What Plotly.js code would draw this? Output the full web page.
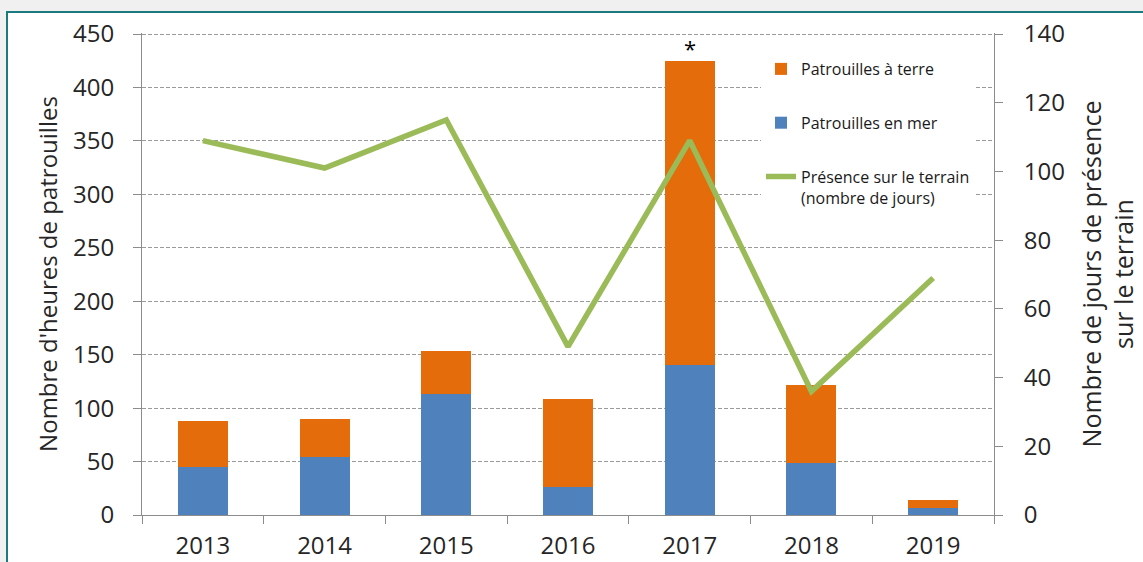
<!DOCTYPE html>
<html><head><meta charset="utf-8">
<script src="https://cdn.plot.ly/plotly-3.0.1.min.js"></script>
<style>html,body{margin:0;padding:0;background:#f0f0f0}</style>
</head><body><div id="chart" style="width:1143px;height:562px"></div>
<script>
// ---- data ----
const years = ['2013', '2014', '2015', '2016', '2017', '2018', '2019'];
const patrouillesMer = [45, 54, 113, 26, 140, 49, 7];      // heures
const patrouillesTerre = [43, 36, 40, 83, 285, 73, 7];     // heures
const presenceJours = [109, 101, 115, 49, 109, 36, 69];    // jours
const noteCategory = '2017';
const noteValue = 425;

// ---- layout helpers ----
const W = 1143, H = 562;
const M = {l: 142, r: 149, t: 33, b: 47};
const pw = W - M.l - M.r, ph = H - M.t - M.b;
const fx = px => (px - M.l) / pw;
const fy = py => (H - M.b - py) / ph;

const txt = '#262626', axc = '#8c8c8c', font = 'Open Sans, Noto Sans, sans-serif';

const traces = [
  {type: 'bar', name: 'Patrouilles en mer', x: years, y: patrouillesMer,
   marker: {color: '#4F81BD'}, legendgroup: 'mer', legendrank: 2},
  {type: 'bar', name: 'Patrouilles à terre', x: years, y: patrouillesTerre,
   marker: {color: '#E46C0A'}, legendgroup: 'terre', legendrank: 1},
  {type: 'scatter', mode: 'lines', name: 'Présence sur le terrain<br>(nombre de jours)',
   x: years, y: presenceJours, yaxis: 'y2',
   line: {color: '#9BBB59', width: 5.5}, legendgroup: 'pres', legendrank: 3}
];

const layout = {
  width: W, height: H,
  margin: M,
  paper_bgcolor: '#f0f0f0',
  plot_bgcolor: 'rgba(0,0,0,0)',
  font: {family: font, color: txt},
  barmode: 'stack',
  bargap: 0.59,
  showlegend: true,
  legend: {
    x: fx(761), y: fy(52), xanchor: 'left', yanchor: 'top',
    bgcolor: '#ffffff', borderwidth: 0,
    font: {family: font, size: 16, color: '#1a1a1a'},
    traceorder: 'grouped', tracegroupgap: 30, valign: 'top', itemwidth: 30
  },
  xaxis: {
    type: 'category', categoryorder: 'array', categoryarray: years,
    range: [-0.5, years.length - 0.5], autorange: false,
    tickson: 'boundaries', ticks: 'outside', ticklen: 8,
    tickcolor: axc, showline: true, linecolor: axc, linewidth: 1,
    showgrid: false, tickfont: {size: 24, color: txt}, ticklabelstandoff: 9
  },
  yaxis: {
    range: [0, 451], autorange: false, dtick: 50, tick0: 0, ticks: 'outside', ticklen: 8, tickcolor: axc,
    showline: true, linecolor: axc, linewidth: 1, zeroline: false,
    showgrid: true, gridcolor: '#9a9a9a', griddash: '4px,2px', gridwidth: 1,
    tickfont: {size: 24, color: txt}, ticklabelstandoff: 14,
    title: {text: "Nombre d'heures de patrouilles", font: {size: 24, color: txt}, standoff: 8}
  },
  yaxis2: {
    overlaying: 'y', side: 'right', range: [0, 140 * 451 / 450], autorange: false, dtick: 20, tick0: 0,
    ticks: 'outside', ticklen: 8, tickcolor: axc,
    showline: true, linecolor: axc, linewidth: 1, zeroline: false, showgrid: false,
    tickfont: {size: 24, color: txt}, ticklabelstandoff: 16,
    title: {text: 'Nombre de jours de présence<br>sur le terrain', font: {size: 25, color: txt}, standoff: 19}
  },
  annotations: [
    {x: years.indexOf(noteCategory), y: noteValue, xref: 'x', yref: 'y', text: '*', showarrow: false,
     yanchor: 'bottom', yshift: -4, font: {size: 22, color: '#000'}}
  ],
  shapes: [
    {type: 'rect', xref: 'paper', yref: 'paper', layer: 'below',
     x0: fx(7), x1: fx(1160), y0: fy(600), y1: fy(12),
     fillcolor: '#ffffff', line: {color: '#1b7a80', width: 2}}
  ]
};

Plotly.newPlot('chart', traces, layout, {displayModeBar: false});
</script>
</body></html>
